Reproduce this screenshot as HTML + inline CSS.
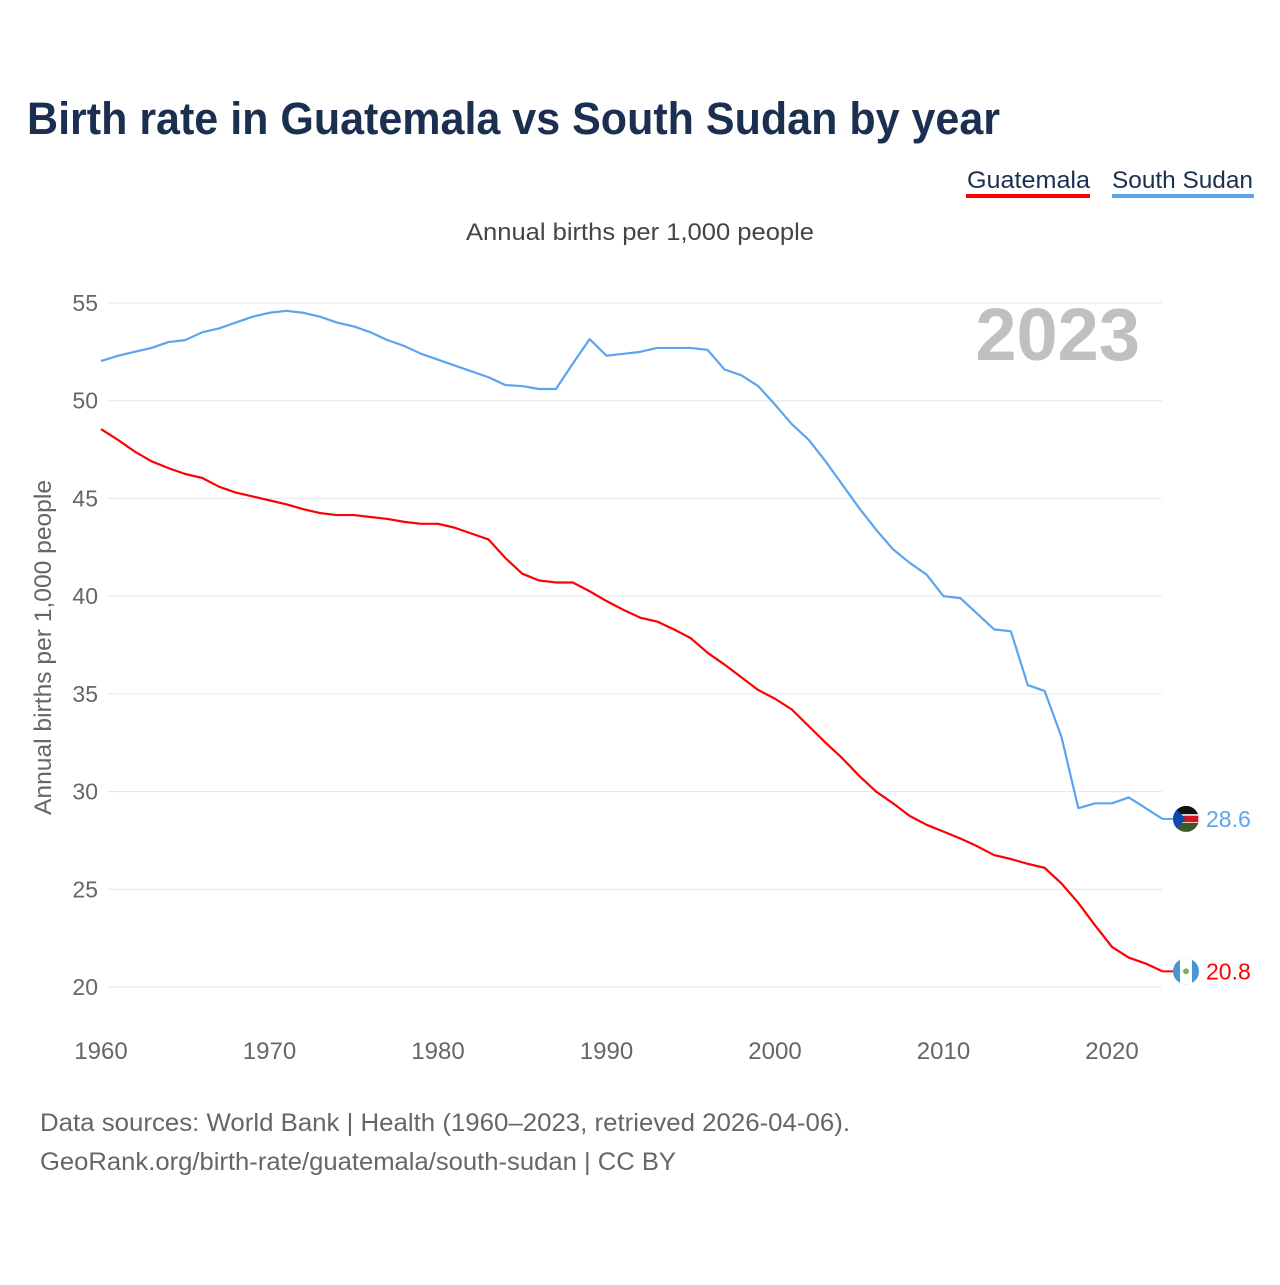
<!DOCTYPE html>
<html><head><meta charset="utf-8"><style>
body{margin:0;background:#fff;font-family:"Liberation Sans",sans-serif;}
</style></head><body>
<svg width="1280" height="1280" viewBox="0 0 1280 1280" xmlns="http://www.w3.org/2000/svg">
<defs><clipPath id="c1"><circle cx="1186" cy="0" r="13"/></clipPath></defs>
<text x="27" y="134" font-size="45" font-weight="bold" fill="#1b3050" textLength="973" lengthAdjust="spacingAndGlyphs">Birth rate in Guatemala vs South Sudan by year</text>
<g><text x="967" y="188" font-size="24" fill="#1b3050" textLength="123" lengthAdjust="spacingAndGlyphs">Guatemala</text><rect x="966" y="194" width="124" height="4" fill="#ff0000"/></g>
<g><text x="1112" y="188" font-size="24" fill="#1b3050" textLength="141" lengthAdjust="spacingAndGlyphs">South Sudan</text><rect x="1112" y="194" width="142" height="4" fill="#5aa5ef"/></g>
<text x="466" y="240" font-size="24" fill="#444" textLength="348" lengthAdjust="spacingAndGlyphs">Annual births per 1,000 people</text>
<text x="1140" y="360" font-size="74" font-weight="bold" fill="#c0c0c0" text-anchor="end">2023</text>
<text transform="translate(51,815) rotate(-90)" font-size="24" fill="#666" textLength="335" lengthAdjust="spacingAndGlyphs">Annual births per 1,000 people</text>
<g id="grid"></g><g id="lines"></g><g id="ends"></g>
<text x="40" y="1131" font-size="25" fill="#666" textLength="810" lengthAdjust="spacingAndGlyphs">Data sources: World Bank | Health (1960–2023, retrieved 2026-04-06).</text>
<text x="40" y="1170" font-size="25" fill="#666" textLength="636" lengthAdjust="spacingAndGlyphs">GeoRank.org/birth-rate/guatemala/south-sudan | CC BY</text>
</svg>
<script>
const years=[];for(let y=1960;y<=2023;y++)years.push(y);
const southSudan=[52.03,52.3,52.5,52.7,53.0,53.1,53.5,53.7,54.0,54.3,54.5,54.6,54.5,54.3,54.0,53.8,53.5,53.1,52.8,52.4,52.1,51.8,51.5,51.2,50.8,50.75,50.6,50.6,51.9,53.15,52.3,52.4,52.5,52.7,52.7,52.7,52.6,51.6,51.3,50.75,49.8,48.8,48.0,46.9,45.7,44.5,43.4,42.4,41.7,41.1,40.0,39.9,39.1,38.3,38.2,35.45,35.15,32.8,29.15,29.4,29.4,29.7,29.15,28.6];
const guatemala=[48.55,48.0,47.4,46.9,46.55,46.25,46.05,45.6,45.3,45.1,44.9,44.7,44.45,44.25,44.15,44.15,44.05,43.95,43.8,43.7,43.7,43.5,43.2,42.9,41.95,41.15,40.8,40.7,40.7,40.25,39.75,39.3,38.9,38.7,38.3,37.85,37.1,36.5,35.85,35.2,34.75,34.2,33.35,32.5,31.7,30.8,30.0,29.4,28.75,28.3,27.95,27.6,27.2,26.75,26.55,26.3,26.1,25.3,24.3,23.15,22.05,21.5,21.2,20.8];
const yTicks=[20,25,30,35,40,45,50,55];
const xTicks=[1960,1970,1980,1990,2000,2010,2020];
const NS="http://www.w3.org/2000/svg";
const xS=y=>101+(y-1960)*(1112-101)/60;
const yS=v=>987-(v-20)*(987-303)/35;
function mk(t,a,p){const e=document.createElementNS(NS,t);for(const k in a)e.setAttribute(k,a[k]);p.appendChild(e);return e;}
const grid=document.getElementById('grid');
yTicks.forEach(v=>{
 const l=mk('line',{x1:108,x2:1162,y1:yS(v),y2:yS(v),stroke:'#e6e6e6','stroke-width':1},grid);
 
 
 const t=mk('text',{x:98,y:yS(v)+8,'font-size':23,fill:'#666','text-anchor':'end'},grid);t.textContent=v;
 
 
});
xTicks.forEach(v=>{
 const t=mk('text',{x:xS(v),y:1059,'font-size':24,fill:'#666','text-anchor':'middle'},grid);t.textContent=v;
 
 
});
const lines=document.getElementById('lines');
function series(data,color,name){
 const p=mk('polyline',{points:data.map((v,i)=>xS(years[i])+','+yS(v)).join(' '),fill:'none',stroke:color,'stroke-width':2.2,'stroke-linejoin':'round'},lines);
 
 
}
series(southSudan,'#5aa5ef','line-south-sudan');
series(guatemala,'#ff0000','line-guatemala');
const ends=document.getElementById('ends');
function endLabel(data,color,name,flag){
 const v=data[data.length-1],y=yS(v),x=xS(years[years.length-1]);
 mk('line',{x1:x,x2:1174,y1:y,y2:y,stroke:color,'stroke-width':2},ends);
 const id='clip-'+name;
 const defs=document.querySelector('defs');
 const cp=mk('clipPath',{id:id},defs);
 mk('circle',{cx:1186,cy:y,r:13},cp);
 const g=mk('g',{'clip-path':'url(#'+id+')'},ends);
 
 
 if(flag==='ss'){
  mk('rect',{x:1173,y:y-13,width:26,height:9,fill:'#111'},g);
  mk('rect',{x:1173,y:y-4,width:26,height:8,fill:'#da121a',stroke:'#fff','stroke-width':1.5},g);
  mk('rect',{x:1173,y:y+4,width:26,height:9,fill:'#3a5a2a'},g);
  mk('polygon',{points:`1173,${y-13} 1186,${y} 1173,${y+13}`,fill:'#0f47af'},g);
 } else {
  mk('rect',{x:1173,y:y-13,width:26,height:26,fill:'#4997d0'},g);
  mk('rect',{x:1180,y:y-13,width:12,height:26,fill:'#fff'},g);
  mk('circle',{cx:1186,cy:y,r:3,fill:'#8aa86a'},g);
 }
 const t=mk('text',{x:1206,y:y+8,'font-size':23,fill:color},ends);t.textContent=v.toFixed(1);
 
 
}
endLabel(southSudan,'#5aa5ef','south-sudan','ss');
endLabel(guatemala,'#ff0000','guatemala','gt');
</script>
</body></html>
